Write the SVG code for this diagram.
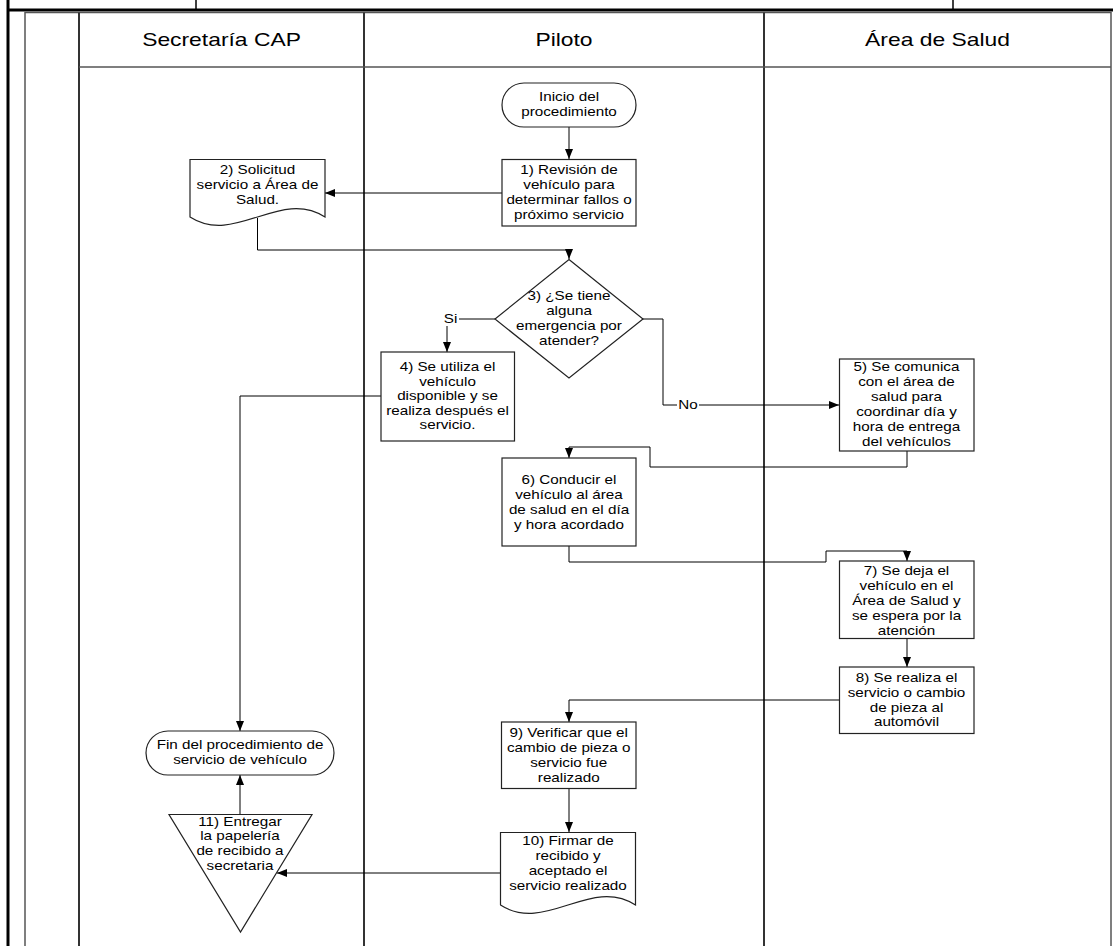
<svg xmlns="http://www.w3.org/2000/svg" width="1113" height="946" viewBox="0 0 1113 946">
<defs>
<style>
.frame{fill:none;stroke:#000;stroke-width:3}
.thin{fill:none;stroke:#000;stroke-width:1.5}
.lane{fill:none;stroke:#333;stroke-width:2}
.inner{fill:none;stroke:#555;stroke-width:1.5}
.shape{fill:#fff;stroke:#222;stroke-width:1.2}
.conn{fill:none;stroke:#000;stroke-width:1}
.t{font-family:"Liberation Sans",Arial,sans-serif;font-size:12px;fill:#000;text-anchor:middle}
.h{font-family:"Liberation Sans",Arial,sans-serif;font-size:18px;fill:#000;text-anchor:middle}
</style>
<marker id="arr" markerUnits="userSpaceOnUse" markerWidth="10" markerHeight="10" viewBox="0 0 10 10" refX="10" refY="5" orient="auto">
<path d="M0,1 L10,5 L0,9 Z" fill="#000"/>
</marker>
</defs>
<rect width="1113" height="946" fill="#fff"/>
<g id="frame">
<line class="frame" x1="8" y1="0" x2="8" y2="946"/>
<line class="frame" x1="8" y1="10" x2="1113" y2="10"/>
<line class="thin" x1="196" y1="0" x2="196" y2="10"/>
<line class="thin" x1="953" y1="0" x2="953" y2="10"/>
<path class="inner" d="M25,946 V12.5 H1111 V946"/>
<line class="lane" x1="79" y1="12.5" x2="79" y2="946"/>
<line class="lane" x1="364" y1="12.5" x2="364" y2="946"/>
<line class="lane" x1="764" y1="12.5" x2="764" y2="946"/>
<line class="inner" x1="79" y1="67" x2="1111" y2="67"/>
</g>
<g id="headers">
<g transform="translate(221.5,0) scale(1.27,1)"><text class="h" x="0" y="46.5">Secretaría CAP</text></g>
<g transform="translate(564,0) scale(1.27,1)"><text class="h" x="0" y="46.5">Piloto</text></g>
<g transform="translate(937.5,0) scale(1.27,1)"><text class="h" x="0" y="46.5">Área de Salud</text></g>
</g>
<g id="connectors">
<path class="conn" d="M569,127 V159" marker-end="url(#arr)"/>
<path class="conn" d="M502,193 H325" marker-end="url(#arr)"/>
<path class="conn" d="M257.5,218 V250 H569 V259" marker-end="url(#arr)"/>
<path class="conn" d="M495,319 H447 V352" marker-end="url(#arr)"/>
<path class="conn" d="M643,319 H663 V405 H839" marker-end="url(#arr)"/>
<path class="conn" d="M381,396 H240 V731" marker-end="url(#arr)"/>
<path class="conn" d="M907,451 V467 H650 V447 H569 V458" marker-end="url(#arr)"/>
<path class="conn" d="M569,546 V562 H826 V551 H907 V561" marker-end="url(#arr)"/>
<path class="conn" d="M907,638 V667" marker-end="url(#arr)"/>
<path class="conn" d="M839,700 H569 V722" marker-end="url(#arr)"/>
<path class="conn" d="M569,788 V832" marker-end="url(#arr)"/>
<path class="conn" d="M500.5,873 H277" marker-end="url(#arr)"/>
<path class="conn" d="M240,814 V775" marker-end="url(#arr)"/>
<rect x="442" y="311" width="17" height="15" fill="#fff"/>
<g transform="translate(450.5,0) scale(1.27,1)"><text class="t" x="0" y="323.5">Si</text></g>
<rect x="677" y="397" width="22" height="15" fill="#fff"/>
<g transform="translate(688,0) scale(1.27,1)"><text class="t" x="0" y="409">No</text></g>
</g>
<g id="start">
<rect class="shape" x="502" y="83" width="134" height="44" rx="22" ry="22"/>
<g transform="translate(569,0) scale(1.27,1)"><text class="t" x="0" y="101">Inicio del</text><text class="t" x="0" y="116.5">procedimiento</text></g>
</g>
<g id="step1">
<rect class="shape" x="502" y="159.5" width="134" height="66.5"/>
<g transform="translate(569,0) scale(1.27,1)"><text class="t" x="0" y="174.5">1) Revisión de</text><text class="t" x="0" y="189.5">vehículo para</text><text class="t" x="0" y="204.5">determinar fallos o</text><text class="t" x="0" y="219.5">próximo servicio</text></g>
</g>
<g id="step2">
<path class="shape" d="M190,159.5 H325 V217 C280,188 235,246 190,217 Z"/>
<g transform="translate(257.5,0) scale(1.27,1)"><text class="t" x="0" y="174.5">2) Solicitud</text><text class="t" x="0" y="189.5">servicio a Área de</text><text class="t" x="0" y="204.5">Salud.</text></g>
</g>
<g id="step3">
<path class="shape" d="M569,259.5 L643,319 L569,378 L495,319 Z"/>
<g transform="translate(569,0) scale(1.27,1)"><text class="t" x="0" y="300">3) ¿Se tiene</text><text class="t" x="0" y="315.5">alguna</text><text class="t" x="0" y="330.5">emergencia por</text><text class="t" x="0" y="345.5">atender?</text></g>
</g>
<g id="step4">
<rect class="shape" x="381" y="352" width="133.5" height="89"/>
<g transform="translate(447.5,0) scale(1.27,1)"><text class="t" x="0" y="371">4) Se utiliza el</text><text class="t" x="0" y="385.6">vehículo</text><text class="t" x="0" y="400.2">disponible y se</text><text class="t" x="0" y="414.8">realiza después el</text><text class="t" x="0" y="429.4">servicio.</text></g>
</g>
<g id="step5">
<rect class="shape" x="839.5" y="359" width="134.5" height="92"/>
<g transform="translate(906.5,0) scale(1.27,1)"><text class="t" x="0" y="371">5) Se comunica</text><text class="t" x="0" y="386">con el área de</text><text class="t" x="0" y="401">salud para</text><text class="t" x="0" y="416">coordinar día y</text><text class="t" x="0" y="431">hora de entrega</text><text class="t" x="0" y="446">del vehículos</text></g>
</g>
<g id="step6">
<rect class="shape" x="502" y="458" width="134" height="88"/>
<g transform="translate(569,0) scale(1.27,1)"><text class="t" x="0" y="483.8">6) Conducir el</text><text class="t" x="0" y="498.8">vehículo al área</text><text class="t" x="0" y="513.8">de salud en el día</text><text class="t" x="0" y="528.8">y hora acordado</text></g>
</g>
<g id="step7">
<rect class="shape" x="839.5" y="561" width="134.5" height="77.5"/>
<g transform="translate(906.5,0) scale(1.27,1)"><text class="t" x="0" y="575">7) Se deja el</text><text class="t" x="0" y="590">vehículo en el</text><text class="t" x="0" y="605">Área de Salud y</text><text class="t" x="0" y="620">se espera por la</text><text class="t" x="0" y="635">atención</text></g>
</g>
<g id="step8">
<rect class="shape" x="839.5" y="667" width="134.5" height="66.5"/>
<g transform="translate(906.5,0) scale(1.27,1)"><text class="t" x="0" y="681.8">8) Se realiza el</text><text class="t" x="0" y="696.8">servicio o cambio</text><text class="t" x="0" y="711.8">de pieza al</text><text class="t" x="0" y="726.5">automóvil</text></g>
</g>
<g id="step9">
<rect class="shape" x="501.5" y="722" width="134.5" height="66.5"/>
<g transform="translate(568.7,0) scale(1.27,1)"><text class="t" x="0" y="737">9) Verificar que el</text><text class="t" x="0" y="752.5">cambio de pieza o</text><text class="t" x="0" y="767.3">servicio fue</text><text class="t" x="0" y="782">realizado</text></g>
</g>
<g id="step10">
<path class="shape" d="M500.5,832.5 H635.5 V905 C590.5,876 545.5,934 500.5,905 Z"/>
<g transform="translate(568,0) scale(1.27,1)"><text class="t" x="0" y="845.5">10) Firmar de</text><text class="t" x="0" y="860.5">recibido y</text><text class="t" x="0" y="875.5">aceptado el</text><text class="t" x="0" y="890.5">servicio realizado</text></g>
</g>
<g id="step11">
<path class="shape" d="M169,814.5 H312 L240.5,932 Z"/>
<g transform="translate(240,0) scale(1.27,1)"><text class="t" x="0" y="825.5">11) Entregar</text><text class="t" x="0" y="840.5">la papelería</text><text class="t" x="0" y="855.5">de recibido a</text><text class="t" x="0" y="870.5">secretaria</text></g>
</g>
<g id="end">
<rect class="shape" x="146" y="731" width="188" height="44" rx="22" ry="22"/>
<g transform="translate(240,0) scale(1.27,1)"><text class="t" x="0" y="749.5">Fin del procedimiento de</text><text class="t" x="0" y="764.5">servicio de vehículo</text></g>
</g>
</svg>
